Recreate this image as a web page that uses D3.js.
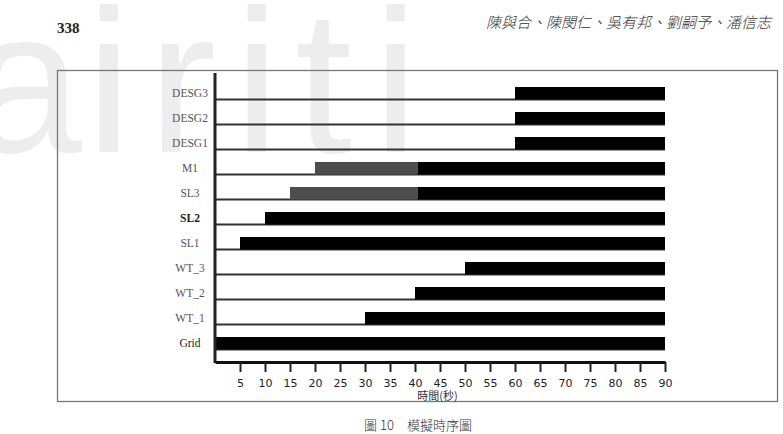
<!DOCTYPE html>
<html>
<head>
<meta charset="utf-8">
<script src="https://cdn.jsdelivr.net/npm/d3@7"></script>
<style>
  body { margin: 0; background: #fff; }
  svg { display: block; }
</style>
</head>
<body>
<div id="chart"></div>
<script>
// signal rows, top to bottom
const signals = ["DESG3", "DESG2", "DESG1", "M1", "SL3", "SL2", "SL1", "WT_3", "WT_2", "WT_1", "Grid"];
// start of the grey (transition) part, null when there is none
const greyStart = [null, null, null, 20, 15, null, null, null, null, null, null];
// start of the black (on) part
const onStart = [60, 60, 60, 40.5, 40.5, 10, 5, 50, 40, 30, 0];
const endTime = 90;
const tickValues = [5, 10, 15, 20, 25, 30, 35, 40, 45, 50, 55, 60, 65, 70, 75, 80, 85, 90];

const W = 783, H = 434;

const svg = d3.select("#chart")
    .append("svg")
    .attr("width", W)
    .attr("height", H);

// watermark
const wm = svg.append("g")
    .attr("fill", "#ededed")
    .style("font-family", "'Liberation Sans', Arial, sans-serif")
    .style("font-size", "205px");
[["a", -32], ["i", 86], ["r", 148], ["i", 234], ["t", 295], ["i", 373]].forEach(function(l) {
    wm.append("text").attr("x", l[1]).attr("y", 152).text(l[0]);
});

// page header
svg.append("text")
    .attr("x", 57).attr("y", 33)
    .style("font-family", "'Liberation Serif', serif")
    .style("font-weight", "bold")
    .style("font-size", "15px")
    .attr("fill", "#222")
    .text("338");

svg.append("text")
    .attr("x", 771).attr("y", 28)
    .attr("text-anchor", "end")
    .style("font-family", "'Noto Sans CJK TC', sans-serif")
    .style("font-style", "italic")
    .style("font-weight", 300)
    .style("font-size", "15px")
    .attr("fill", "#333")
    .text("陳與合、陳閔仁、吳有邦、劉嗣予、潘信志");

// figure frame
svg.append("rect")
    .attr("x", 57.5).attr("y", 70.5)
    .attr("width", 720).attr("height", 331)
    .attr("fill", "none")
    .attr("stroke", "#777")
    .attr("stroke-width", 1.3);

const x = d3.scaleLinear()
    .domain([0, endTime])
    .range([215, 665]);

const y = d3.scaleBand()
    .domain(signals)
    .range([87, 362]);

const half = y.bandwidth() / 2;

const rows = signals.map((s, i) => ({ name: s, grey: greyStart[i], on: onStart[i] }));

// baselines
svg.selectAll(".base")
    .data(rows)
    .enter()
    .append("line")
    .attr("class", "base")
    .attr("x1", x(0))
    .attr("x2", x(endTime))
    .attr("y1", d => y(d.name) + half)
    .attr("y2", d => y(d.name) + half)
    .attr("stroke", "#333")
    .attr("stroke-width", 1.8);

// grey parts
svg.selectAll(".grey")
    .data(rows.filter(d => d.grey !== null))
    .enter()
    .append("rect")
    .attr("class", "grey")
    .attr("x", d => x(d.grey))
    .attr("y", d => y(d.name))
    .attr("width", d => x(d.on) - x(d.grey))
    .attr("height", half)
    .attr("fill", "#4d4d4d");

// black parts
svg.selectAll(".on")
    .data(rows)
    .enter()
    .append("rect")
    .attr("class", "on")
    .attr("x", d => x(d.on))
    .attr("y", d => y(d.name))
    .attr("width", d => x(endTime) - x(d.on))
    .attr("height", half)
    .attr("fill", "#000");

// row labels
svg.selectAll(".lbl")
    .data(rows)
    .enter()
    .append("text")
    .attr("class", "lbl")
    .attr("x", 190)
    .attr("y", d => y(d.name) + half / 2)
    .attr("dy", "0.35em")
    .attr("text-anchor", "middle")
    .style("font-family", "'Liberation Serif', 'Times New Roman', serif")
    .style("font-size", "11.5px")
    .style("font-weight", d => d.name === "SL2" ? "bold" : "normal")
    .attr("fill", d => d.name === "SL2" || d.name === "Grid" ? "#222" : "#555")
    .text(d => d.name);

// vertical axis line
svg.append("line")
    .attr("x1", x(0)).attr("x2", x(0))
    .attr("y1", 73).attr("y2", 363)
    .attr("stroke", "#222")
    .attr("stroke-width", 3);

// time axis
const xAxis = svg.append("g")
    .attr("transform", "translate(0,362)")
    .call(d3.axisBottom(x).tickValues(tickValues).tickSize(10).tickSizeOuter(0).tickPadding(7));

xAxis.select(".domain")
    .attr("stroke", "#111")
    .attr("stroke-width", 3);

xAxis.selectAll(".tick line")
    .attr("stroke", "#222")
    .attr("stroke-width", 2);

xAxis.selectAll("text")
    .style("font-family", "'DejaVu Sans', sans-serif")
    .style("font-size", "11px")
    .attr("fill", "#222");

svg.append("text")
    .attr("x", x(44.5))
    .attr("y", 400)
    .attr("text-anchor", "middle")
    .style("font-family", "'Noto Sans CJK TC', sans-serif")
    .style("font-size", "11px")
    .attr("fill", "#333")
    .text("時間(秒)");

// caption
svg.append("text")
    .attr("x", 418)
    .attr("y", 430)
    .attr("text-anchor", "middle")
    .style("font-family", "'Noto Sans CJK TC', sans-serif")
    .style("font-size", "13px")
    .style("font-weight", 300)
    .attr("fill", "#333")
    .attr("xml:space", "preserve")
    .text("圖 10　模擬時序圖");
</script>
</body>
</html>
